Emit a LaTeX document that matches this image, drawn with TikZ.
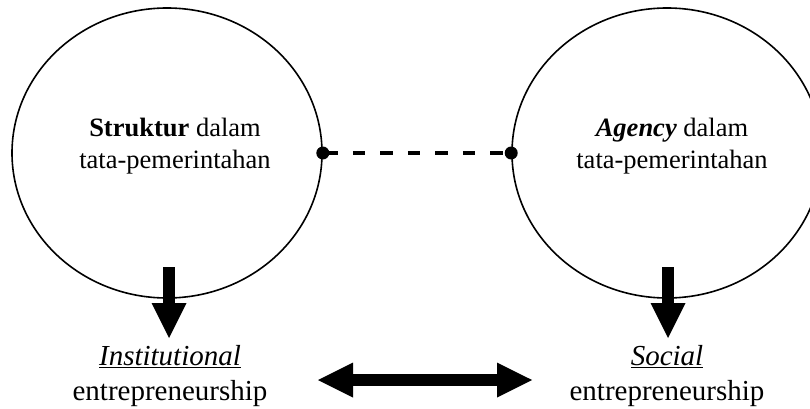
\documentclass[tikz,border=0pt]{standalone}
\usepackage{fontspec}
\setmainfont{Liberation Serif}
\usetikzlibrary{shapes.geometric,arrows.meta}
\begin{document}
\begin{tikzpicture}[x=1pt,y=-1pt,
  circ/.style={draw, ellipse, line width=1.6pt, minimum width=310pt, minimum height=290pt, inner sep=0pt},
  toptext/.style={align=center, font=\fontsize{26.5}{32}\selectfont, inner sep=0pt},
  bottext/.style={align=center, font=\fontsize{29}{35}\selectfont, inner sep=0pt},
  dot/.style={circle, fill, inner sep=0pt, minimum size=13pt},
  link/.style={line width=3.5pt, dash pattern=on 12.5pt off 15pt, dash phase=25pt},
  bigtip/.tip={Triangle[length=35pt,width=35pt,line width=0pt]},
  blockarrow/.style={line width=12pt, -bigtip},
  dblarrow/.style={line width=11.3pt, bigtip-bigtip}
]
\useasboundingbox (0,0) rectangle (810,409);
\clip (0,0) rectangle (810,409);
\node[circ] (L) at (167,153) {};
\node[circ] (R) at (667,153) {};
\node[toptext] (LT) at (175,146) {\textbf{Struktur} dalam\\tata-pemerintahan};
\node[toptext] (RT) at (672,146) {\textbf{\textit{Agency}} dalam\\tata-pemerintahan};
\node[bottext] (LB) at (170,376) {\underline{\textit{Institutional}}\\entrepreneurship};
\node[bottext] (RB) at (667,376) {\underline{\textit{Social}}\\entrepreneurship};
\node[dot] (d1) at (L.east) {};
\node[dot] (d2) at (R.west) {};
\draw[link] (d1.center) -- (d2.center);
\coordinate (la) at (169,267);
\coordinate (lb) at (169,338);
\coordinate (ra) at (668,267);
\coordinate (rb) at (668,338);
\coordinate (ma) at (318,380);
\coordinate (mb) at (532,380);
\draw[blockarrow] (la) -- (lb);
\draw[blockarrow] (ra) -- (rb);
\draw[dblarrow] (ma) -- (mb);
\end{tikzpicture}
\end{document}
